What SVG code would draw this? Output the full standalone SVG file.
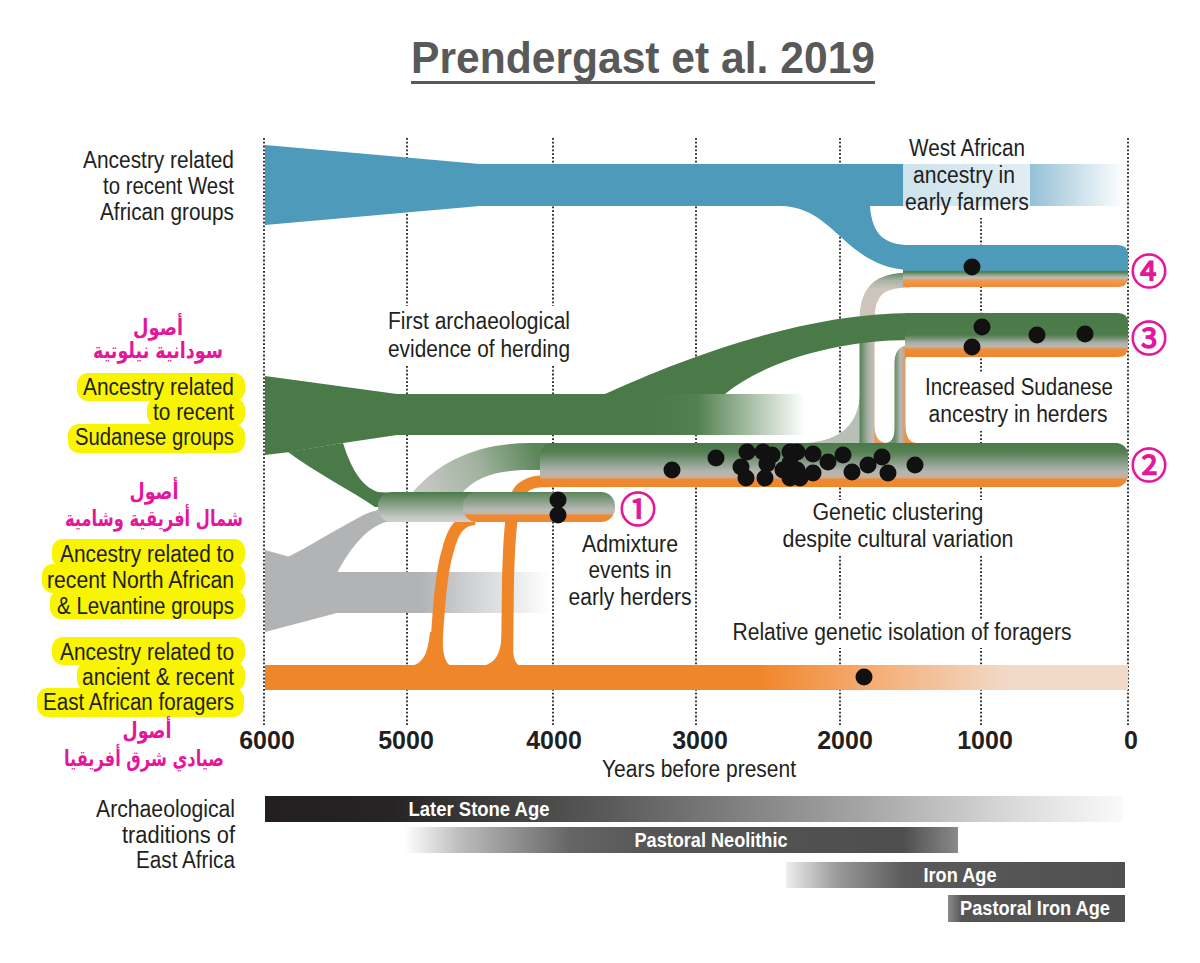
<svg xmlns="http://www.w3.org/2000/svg" width="1200" height="963" viewBox="0 0 1200 963">
<style>
.t{font-family:"Liberation Sans Narrow","Liberation Sans",Arial,sans-serif;font-size:23px;fill:#231f20}
.r{text-anchor:end}
.m{text-anchor:middle}
.ar{font-family:"DejaVu Sans",sans-serif;font-weight:bold;font-size:22px;fill:#e4169c;text-anchor:middle}
.num{font-family:"Liberation Sans Narrow","Liberation Sans",sans-serif;font-weight:bold;font-size:25px;fill:#231f20;text-anchor:middle}
.bar{font-family:"Liberation Sans Narrow","Liberation Sans",sans-serif;font-weight:bold;font-size:21px;fill:#fff;text-anchor:middle}
.circ{font-family:"Noto Sans CJK JP",sans-serif;font-size:36px;fill:#e4169c;stroke:#e4169c;stroke-width:1.3;text-anchor:middle}
.dot{fill:#111}
.grid{stroke:#231f20;stroke-width:1.8;stroke-dasharray:1.8 2;fill:none}
.hl{fill:#f9f400}
.wbox{fill:#fff}
</style>
<defs>
<linearGradient id="gBlue" gradientUnits="userSpaceOnUse" x1="903" y1="0" x2="1125" y2="0"><stop offset="0" stop-color="#4e9aba"/><stop offset="0.55" stop-color="#8fbdd4"/><stop offset="1" stop-color="#ffffff"/></linearGradient>
<linearGradient id="gGreen" gradientUnits="userSpaceOnUse" x1="650" y1="0" x2="805" y2="0"><stop offset="0" stop-color="#4a7a48"/><stop offset="0.3" stop-color="#52804f"/><stop offset="1" stop-color="#ffffff"/></linearGradient>
<linearGradient id="gGrey" gradientUnits="userSpaceOnUse" x1="420" y1="0" x2="550" y2="0"><stop offset="0" stop-color="#b1b3b5"/><stop offset="1" stop-color="#ffffff"/></linearGradient>
<linearGradient id="gOrange" gradientUnits="userSpaceOnUse" x1="760" y1="0" x2="1010" y2="0"><stop offset="0" stop-color="#f0862a"/><stop offset="0.45" stop-color="#f5ad75"/><stop offset="1" stop-color="#f2dac8"/></linearGradient>
<linearGradient id="gBand2" x1="0" y1="0" x2="0" y2="1"><stop offset="0" stop-color="#4a7a48"/><stop offset="0.2" stop-color="#547f52"/><stop offset="0.65" stop-color="#b3b5b3"/><stop offset="0.78" stop-color="#c9b09b"/><stop offset="0.83" stop-color="#ef8a33"/><stop offset="1" stop-color="#f0862a"/></linearGradient>
<linearGradient id="gBand1L" x1="0" y1="0" x2="0" y2="1"><stop offset="0" stop-color="#4a7a48"/><stop offset="0.85" stop-color="#c6c8c6"/><stop offset="1" stop-color="#d0d0d0"/></linearGradient>
<linearGradient id="gBand1R" x1="0" y1="0" x2="0" y2="1"><stop offset="0" stop-color="#5a855a"/><stop offset="0.6" stop-color="#b8bab8"/><stop offset="0.72" stop-color="#c4b3a3"/><stop offset="0.78" stop-color="#ef8a33"/><stop offset="1" stop-color="#f0862a"/></linearGradient>
<linearGradient id="gBand3" x1="0" y1="0" x2="0" y2="1"><stop offset="0" stop-color="#4a7a48"/><stop offset="0.5" stop-color="#4e7c4c"/><stop offset="0.68" stop-color="#a9b1a8"/><stop offset="0.76" stop-color="#bcb8b4"/><stop offset="0.82" stop-color="#ee8d3c"/><stop offset="1" stop-color="#f0862a"/></linearGradient>
<linearGradient id="gBand4" x1="0" y1="0" x2="0" y2="1"><stop offset="0" stop-color="#4e9aba"/><stop offset="0.6" stop-color="#4e9aba"/><stop offset="0.64" stop-color="#4a7a48"/><stop offset="0.7" stop-color="#80a07e"/><stop offset="0.78" stop-color="#bdbdbb"/><stop offset="0.84" stop-color="#ef9a55"/><stop offset="1" stop-color="#f08a35"/></linearGradient>
<linearGradient id="gTube" gradientUnits="userSpaceOnUse" x1="425" y1="492" x2="535" y2="445"><stop offset="0" stop-color="#c5c7c5"/><stop offset="0.5" stop-color="#a0b29e"/><stop offset="1" stop-color="#5a8658"/></linearGradient>
<linearGradient id="gConnV" gradientUnits="userSpaceOnUse" x1="859" y1="0" x2="879" y2="0"><stop offset="0" stop-color="#4f7d4d"/><stop offset="0.45" stop-color="#a6b0a5"/><stop offset="0.7" stop-color="#c2bcb6"/><stop offset="1" stop-color="#ec9a5e"/></linearGradient>
<linearGradient id="gConnT" gradientUnits="userSpaceOnUse" x1="0" y1="272" x2="0" y2="289"><stop offset="0" stop-color="#5a865a"/><stop offset="0.5" stop-color="#a9b3a8"/><stop offset="1" stop-color="#cfc4bb"/></linearGradient>
<linearGradient id="gConnB" gradientUnits="userSpaceOnUse" x1="894" y1="0" x2="907" y2="0"><stop offset="0" stop-color="#5a865a"/><stop offset="0.5" stop-color="#b5b8b4"/><stop offset="1" stop-color="#ee8f42"/></linearGradient>
<linearGradient id="gLSA" gradientUnits="userSpaceOnUse" x1="265" y1="0" x2="1123" y2="0"><stop offset="0" stop-color="#231f20"/><stop offset="0.15" stop-color="#272425"/><stop offset="0.4" stop-color="#5a5a5a"/><stop offset="0.7" stop-color="#a6a6a6"/><stop offset="0.88" stop-color="#dcdcdc"/><stop offset="1" stop-color="#fafafa"/></linearGradient>
<linearGradient id="gPN" gradientUnits="userSpaceOnUse" x1="404" y1="0" x2="958" y2="0"><stop offset="0" stop-color="#ffffff"/><stop offset="0.1" stop-color="#bdbdbd"/><stop offset="0.3" stop-color="#656565"/><stop offset="0.45" stop-color="#555555"/><stop offset="0.9" stop-color="#4e4e4e"/><stop offset="1" stop-color="#8a8a8a"/></linearGradient>
<linearGradient id="gIA" gradientUnits="userSpaceOnUse" x1="786" y1="0" x2="1125" y2="0"><stop offset="0" stop-color="#eeeeee"/><stop offset="0.15" stop-color="#9a9a9a"/><stop offset="0.35" stop-color="#5a5a5a"/><stop offset="1" stop-color="#505050"/></linearGradient>
<linearGradient id="gPIA" gradientUnits="userSpaceOnUse" x1="948" y1="0" x2="1125" y2="0"><stop offset="0" stop-color="#8a8a8a"/><stop offset="0.08" stop-color="#555555"/><stop offset="1" stop-color="#505050"/></linearGradient>
</defs>

<rect width="1200" height="963" fill="#fff"/>

<g id="title">
<text x="643" y="73" text-anchor="middle" font-family="'Liberation Sans Narrow','Liberation Sans',sans-serif" font-weight="bold" font-size="44" fill="#595959" textLength="464" lengthAdjust="spacingAndGlyphs">Prendergast et al. 2019</text>
<rect x="411" y="81" width="464" height="3" fill="#595959"/>
</g>

<g id="grid">
<line class="grid" x1="264" y1="138" x2="264" y2="726"/>
<line class="grid" x1="407" y1="138" x2="407" y2="726"/>
<line class="grid" x1="553" y1="138" x2="553" y2="726"/>
<line class="grid" x1="696" y1="138" x2="696" y2="726"/>
<line class="grid" x1="840" y1="138" x2="840" y2="726"/>
<line class="grid" x1="981" y1="138" x2="981" y2="726"/>
<line class="grid" x1="1128" y1="138" x2="1128" y2="726"/>
<rect class="wbox" x="384" y="306" width="191" height="58"/>
<rect class="wbox" x="900" y="136" width="133" height="82"/>
<rect class="wbox" x="920" y="373" width="197" height="58"/>
<rect class="wbox" x="780" y="500" width="238" height="55"/>
<rect class="wbox" x="728" y="620" width="349" height="28"/>
</g>

<g id="west-african">
<path d="M265,145 L480,164 L1125,164 L1125,206 L480,206 L265,225 Z" fill="url(#gBlue)"/>
<path d="M780,206 C835,206 845,268 910,270 L910,245 C885,245 872,235 870,206 Z" fill="#4e9aba"/>
<rect x="903" y="164" width="127" height="42" fill="#fff" opacity="0.72"/>
</g>

<g id="sudanese">
<path d="M265,376 L397,394 L805,394 L805,435 L397,435 L343,443 L290,452 L265,455 Z" fill="url(#gGreen)"/>
<path d="M288,452 L343,443 C350,465 360,486 378,492 L395,493 L395,507 L375,507 C350,490 315,472 288,452 Z" fill="#4a7a48"/>
</g>

<g id="north-african">
<path d="M265,550 L290,557 L337,572 L550,572 L550,613 L337,613 L265,632 Z" fill="url(#gGrey)"/>
<path d="M286,558 C310,546 335,530 358,518 C370,511 382,508 395,508 L395,522 L386,522 C368,527 352,545 337,573 Z" fill="#b1b3b5"/>
</g>

<g id="foragers">
<rect x="265" y="665" width="863" height="25" fill="url(#gOrange)"/>
<path d="M410,666 C425,664 428,650 430,632 L443,632 C442,650 444,664 452,666 Z" fill="#f0862a"/>
<path d="M482,666 C498,663 501,650 502,632 L513,632 C512,650 513,663 520,666 Z" fill="#f0862a"/>
</g>

<g id="connectors">
<path d="M412,493 C440,460 480,443 530,443 L560,443 L560,470 L530,470 C495,470 475,478 462,493 Z" fill="url(#gTube)"/>
<path d="M435,668 C438,620 440,575 448,550 C453,530 460,520 475,519" fill="none" stroke="#f0862a" stroke-width="12"/>
<path d="M507,668 L508,580 C509,540 511,500 520,490 C528,482 536,481 552,481" fill="none" stroke="#f0862a" stroke-width="12"/>
<path d="M860,395 C858,425 840,440 808,443 L870,443 Z" fill="#b7c0b6"/>
<path d="M874,425 C875,438 880,443 887,443 L874,443 Z" fill="#ec9a5e"/>
<path d="M895,428 C894,440 890,443 885,443 L896,443 Z" fill="#6a8f68"/>
<path d="M905,425 C906,438 910,443 917,443 L905,443 Z" fill="#ee8f42"/>
<path d="M867,446 L867,318" fill="none" stroke="url(#gConnV)" stroke-width="15"/>
<path d="M867,320 C867,290 880,280 910,280" fill="none" stroke="url(#gConnT)" stroke-width="15"/>
<path d="M900,446 L900,362 C900,352 905,350 915,350" fill="none" stroke="url(#gConnB)" stroke-width="11"/>
<path d="M605,394 C680,360 800,313 912,313 L912,340 C830,340 760,365 725,394 Z" fill="#4a7a48"/>
</g>

<g id="band1">
<rect x="378" y="492" width="110" height="30" rx="14" fill="url(#gBand1L)"/>
<rect x="463" y="492" width="152" height="30" rx="14" fill="url(#gBand1R)"/>
</g>
<g id="band2">
<rect x="540" y="443" width="588" height="44" rx="12" fill="url(#gBand2)"/>
</g>
<g id="band3">
<path d="M905,313 L1118,313 Q1128,313 1128,323 L1128,347 Q1128,357 1118,357 L905,357 Z" fill="url(#gBand3)"/>
</g>
<g id="band4">
<path d="M903,245 L1118,245 Q1128,245 1128,255 L1128,277 Q1128,287 1118,287 L903,287 Z" fill="url(#gBand4)"/>
</g>

<g id="samples">
<circle class="dot" cx="558" cy="500" r="8.5"/><circle class="dot" cx="558" cy="515" r="8.5"/>
<circle class="dot" cx="672" cy="470" r="8.5"/><circle class="dot" cx="716" cy="458" r="8.5"/>
<circle class="dot" cx="741" cy="467" r="8.5"/><circle class="dot" cx="746" cy="478" r="8.5"/>
<circle class="dot" cx="747" cy="452" r="8.5"/><circle class="dot" cx="763" cy="452" r="8.5"/>
<circle class="dot" cx="765" cy="478" r="8.5"/><circle class="dot" cx="772" cy="455" r="8.5"/>
<circle class="dot" cx="767" cy="464" r="8.5"/><circle class="dot" cx="783" cy="470" r="8.5"/>
<circle class="dot" cx="790" cy="452" r="8.5"/><circle class="dot" cx="797" cy="452" r="8.5"/>
<circle class="dot" cx="790" cy="463" r="8.5"/><circle class="dot" cx="790" cy="478" r="8.5"/>
<circle class="dot" cx="800" cy="478" r="8.5"/><circle class="dot" cx="797" cy="470" r="8.5"/>
<circle class="dot" cx="813" cy="454" r="8.5"/><circle class="dot" cx="813" cy="473" r="8.5"/>
<circle class="dot" cx="828" cy="462" r="8.5"/><circle class="dot" cx="843" cy="455" r="8.5"/>
<circle class="dot" cx="852" cy="472" r="8.5"/><circle class="dot" cx="868" cy="465" r="8.5"/>
<circle class="dot" cx="882" cy="457" r="8.5"/><circle class="dot" cx="888" cy="473" r="8.5"/>
<circle class="dot" cx="915" cy="465" r="8.5"/>
<circle class="dot" cx="982" cy="327" r="8.5"/><circle class="dot" cx="972" cy="347" r="8.5"/>
<circle class="dot" cx="1037" cy="335" r="8.5"/><circle class="dot" cx="1085" cy="334" r="8.5"/>
<circle class="dot" cx="972" cy="267" r="8.5"/>
<circle class="dot" cx="864" cy="677" r="8.5"/>
</g>

<g id="circled">
<text class="circ" x="638" y="507" dominant-baseline="central">①</text>
<text class="circ" x="1149" y="463" dominant-baseline="central">②</text>
<text class="circ" x="1149" y="336" dominant-baseline="central">③</text>
<text class="circ" x="1149" y="269" dominant-baseline="central">④</text>
</g>

<g id="label-west">
<text class="t r" x="234" y="168" textLength="151" lengthAdjust="spacingAndGlyphs">Ancestry related</text>
<text class="t r" x="234" y="194" textLength="131" lengthAdjust="spacingAndGlyphs">to recent West</text>
<text class="t r" x="234" y="220" textLength="134" lengthAdjust="spacingAndGlyphs">African groups</text>
</g>

<g id="label-sudanese">
<text class="ar" x="158" y="335" textLength="50" lengthAdjust="spacingAndGlyphs">أصول</text>
<text class="ar" x="158" y="358" textLength="130" lengthAdjust="spacingAndGlyphs">سودانية نيلوتية</text>
<rect class="hl" x="77" y="373" width="168" height="28" rx="11"/>
<rect class="hl" x="147" y="398" width="98" height="28" rx="11"/>
<rect class="hl" x="68" y="424" width="177" height="29" rx="11"/>
<text class="t r" x="234" y="395" textLength="151" lengthAdjust="spacingAndGlyphs">Ancestry related</text>
<text class="t r" x="234" y="420" textLength="81" lengthAdjust="spacingAndGlyphs">to recent</text>
<text class="t r" x="234" y="445" textLength="159" lengthAdjust="spacingAndGlyphs">Sudanese groups</text>
</g>

<g id="label-north">
<text class="ar" x="154" y="499" textLength="49" lengthAdjust="spacingAndGlyphs">أصول</text>
<text class="ar" x="154" y="526" textLength="178" lengthAdjust="spacingAndGlyphs">شمال أفريقية وشامية</text>
<rect class="hl" x="52" y="539" width="193" height="28" rx="11"/>
<rect class="hl" x="42" y="564" width="203" height="29" rx="11"/>
<rect class="hl" x="50" y="590" width="195" height="29" rx="11"/>
<text class="t r" x="234" y="562" textLength="174" lengthAdjust="spacingAndGlyphs">Ancestry related to</text>
<text class="t r" x="234" y="588" textLength="187" lengthAdjust="spacingAndGlyphs">recent North African</text>
<text class="t r" x="234" y="614" textLength="177" lengthAdjust="spacingAndGlyphs">&amp; Levantine groups</text>
</g>

<g id="label-east">
<rect class="hl" x="52" y="637" width="193" height="28" rx="11"/>
<rect class="hl" x="77" y="662" width="168" height="29" rx="11"/>
<rect class="hl" x="37" y="688" width="207" height="29" rx="11"/>
<text class="t r" x="234" y="660" textLength="174" lengthAdjust="spacingAndGlyphs">Ancestry related to</text>
<text class="t r" x="234" y="685" textLength="152" lengthAdjust="spacingAndGlyphs">ancient &amp; recent</text>
<text class="t r" x="234" y="710" textLength="191" lengthAdjust="spacingAndGlyphs">East African foragers</text>
<text class="ar" x="147" y="738" font-size="20" textLength="49" lengthAdjust="spacingAndGlyphs">أصول</text>
<text class="ar" x="224" y="766" font-size="18" text-anchor="end" style="text-anchor:end" textLength="160" lengthAdjust="spacingAndGlyphs">صيادي شرق أفريقيا</text>
</g>

<g id="annotations">
<text class="t m" x="479" y="329" textLength="182" lengthAdjust="spacingAndGlyphs">First archaeological</text>
<text class="t m" x="479" y="357" textLength="182" lengthAdjust="spacingAndGlyphs">evidence of herding</text>
<text class="t m" x="967" y="156" textLength="116" lengthAdjust="spacingAndGlyphs">West African</text>
<text class="t m" x="964" y="183" textLength="102" lengthAdjust="spacingAndGlyphs">ancestry in</text>
<text class="t m" x="967" y="210" textLength="124" lengthAdjust="spacingAndGlyphs">early farmers</text>
<text class="t m" x="1019" y="395" textLength="188" lengthAdjust="spacingAndGlyphs">Increased Sudanese</text>
<text class="t m" x="1018" y="422" textLength="179" lengthAdjust="spacingAndGlyphs">ancestry in herders</text>
<text class="t m" x="898" y="520" textLength="171" lengthAdjust="spacingAndGlyphs">Genetic clustering</text>
<text class="t m" x="898" y="547" textLength="231" lengthAdjust="spacingAndGlyphs">despite cultural variation</text>
<text class="t m" x="902" y="640" textLength="339" lengthAdjust="spacingAndGlyphs">Relative genetic isolation of foragers</text>
<text class="t m" x="630" y="552" textLength="96" lengthAdjust="spacingAndGlyphs">Admixture</text>
<text class="t m" x="630" y="578" textLength="83" lengthAdjust="spacingAndGlyphs">events in</text>
<text class="t m" x="630" y="605" textLength="123" lengthAdjust="spacingAndGlyphs">early herders</text>
</g>

<g id="axis">
<text class="num" x="267" y="749">6000</text>
<text class="num" x="406" y="749">5000</text>
<text class="num" x="554" y="749">4000</text>
<text class="num" x="700" y="749">3000</text>
<text class="num" x="845" y="749">2000</text>
<text class="num" x="985" y="749">1000</text>
<text class="num" x="1131" y="749">0</text>
<text class="t m" x="699" y="777" textLength="194" lengthAdjust="spacingAndGlyphs">Years before present</text>
</g>

<g id="traditions">
<text class="t r" x="235" y="817" textLength="139" lengthAdjust="spacingAndGlyphs">Archaeological</text>
<text class="t r" x="235" y="843" textLength="113" lengthAdjust="spacingAndGlyphs">traditions of</text>
<text class="t r" x="235" y="868" textLength="99" lengthAdjust="spacingAndGlyphs">East Africa</text>
<rect x="265" y="796" width="858" height="26" fill="url(#gLSA)"/>
<text class="bar" x="479" y="816" textLength="141" lengthAdjust="spacingAndGlyphs">Later Stone Age</text>
<rect x="404" y="827" width="554" height="26" fill="url(#gPN)"/>
<text class="bar" x="711" y="847" textLength="153" lengthAdjust="spacingAndGlyphs">Pastoral Neolithic</text>
<rect x="786" y="862" width="339" height="26" fill="url(#gIA)"/>
<text class="bar" x="960" y="882" textLength="73" lengthAdjust="spacingAndGlyphs">Iron Age</text>
<rect x="948" y="895" width="177" height="27" fill="url(#gPIA)"/>
<text class="bar" x="1035" y="915" textLength="150" lengthAdjust="spacingAndGlyphs">Pastoral Iron Age</text>
</g>
</svg>
